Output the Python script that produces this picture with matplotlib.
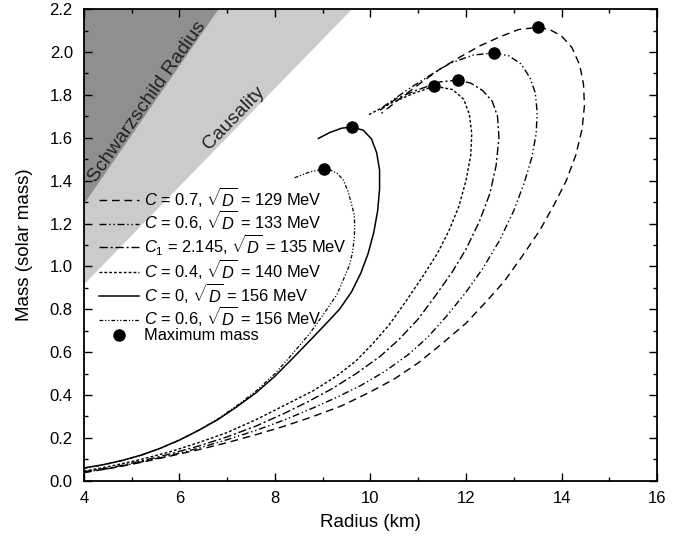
import matplotlib
matplotlib.use("Agg")
import matplotlib.pyplot as plt
import numpy as np
from matplotlib.ticker import MultipleLocator, FormatStrFormatter

plt.rcParams['font.family'] = ['Liberation Sans', 'DejaVu Sans']
plt.rcParams['mathtext.fontset'] = 'custom'
plt.rcParams['mathtext.rm'] = 'Liberation Sans'
plt.rcParams['mathtext.it'] = 'Liberation Sans:italic'
plt.rcParams['mathtext.bf'] = 'Liberation Sans:bold'

# ---- data (radius km, mass in solar masses) ----
r_c07 = [4.0, 4.6, 5.2, 5.8, 6.4, 7.0, 7.6, 8.2, 8.8, 9.4, 10.0, 10.5, 11.0, 11.5, 12.0, 12.4, 12.8,
         13.2, 13.55, 13.85, 14.1, 14.3, 14.43, 14.48, 14.46, 14.38, 14.22, 14.0, 13.75, 13.5,
         13.1, 12.7, 12.3, 11.9, 11.45, 11.04, 10.6, 10.23]
m_c07 = [0.038, 0.06, 0.086, 0.115, 0.145, 0.178, 0.215, 0.255, 0.3, 0.35, 0.415, 0.475, 0.55, 0.64, 0.735,
         0.83, 0.93, 1.055, 1.17, 1.29, 1.4, 1.52, 1.64, 1.75, 1.85, 1.94, 2.02, 2.075, 2.105, 2.115,
         2.105, 2.07, 2.03, 1.98, 1.92, 1.854, 1.78, 1.714]

r_c06a = [4.0, 4.6, 5.2, 5.8, 6.4, 7.0, 7.6, 8.2, 8.8, 9.3, 9.8, 10.3, 10.8, 11.2, 11.6, 12.0, 12.35,
          12.7, 13.0, 13.22, 13.38, 13.47, 13.49, 13.45, 13.34, 13.15, 12.9, 12.59, 12.15, 11.66,
          11.25, 10.76, 10.27]
m_c06a = [0.04, 0.06, 0.088, 0.118, 0.152, 0.192, 0.235, 0.284, 0.34, 0.39, 0.445, 0.51, 0.59, 0.67, 0.77,
          0.88, 0.99, 1.12, 1.26, 1.39, 1.51, 1.62, 1.72, 1.81, 1.88, 1.945, 1.982, 1.996, 1.986, 1.947,
          1.892, 1.822, 1.745]

r_c1 = [4.0, 4.6, 5.2, 5.8, 6.4, 7.0, 7.6, 8.2, 8.7, 9.2, 9.7, 10.2, 10.6, 11.0, 11.35, 11.7, 12.0,
        12.28, 12.5, 12.63, 12.69, 12.66, 12.55, 12.35, 12.1, 11.83, 11.46, 10.97, 10.55, 10.2]
m_c1 = [0.042, 0.063, 0.092, 0.125, 0.162, 0.205, 0.255, 0.315, 0.37, 0.43, 0.5, 0.58, 0.66, 0.755, 0.86,
        0.97, 1.08, 1.21, 1.34, 1.47, 1.6, 1.7, 1.77, 1.82, 1.855, 1.869, 1.861, 1.822, 1.784, 1.729]

r_c04 = [4.0, 4.6, 5.2, 5.8, 6.4, 7.0, 7.6, 8.2, 8.8, 9.3, 9.7, 10.05, 10.4, 10.75, 11.1, 11.4, 11.65,
         11.85, 12.0, 12.1, 12.12, 12.07, 11.95, 11.72, 11.34, 10.9, 10.41, 9.95]
m_c04 = [0.045, 0.07, 0.1, 0.135, 0.178, 0.225, 0.285, 0.352, 0.42, 0.49, 0.56, 0.64, 0.73, 0.84, 0.955,
         1.06, 1.17, 1.28, 1.4, 1.52, 1.62, 1.71, 1.78, 1.825, 1.841, 1.807, 1.76, 1.706]

r_c0 = [4.0, 4.4, 4.8, 5.2, 5.6, 6.0, 6.4, 6.8, 7.2, 7.6, 8.0, 8.4, 8.8, 9.1, 9.35, 9.6, 9.8, 9.95,
        10.07, 10.15, 10.19, 10.19, 10.13, 10.02, 9.85, 9.62, 9.4, 9.15, 8.91]
m_c0 = [0.06, 0.075, 0.095, 0.12, 0.152, 0.19, 0.235, 0.285, 0.345, 0.41, 0.488, 0.578, 0.67, 0.74, 0.80,
        0.88, 0.97, 1.06, 1.16, 1.26, 1.36, 1.45, 1.53, 1.595, 1.635, 1.65, 1.645, 1.625, 1.597]

r_c06b = [4.0, 4.4, 4.8, 5.2, 5.6, 6.0, 6.4, 6.8, 7.2, 7.6, 8.0, 8.3, 8.73, 9.08, 9.3, 9.43, 9.55,
          9.62, 9.66, 9.67, 9.66, 9.6, 9.53, 9.43, 9.3, 9.15, 9.03, 8.73, 8.55, 8.38]
m_c06b = [0.058, 0.074, 0.094, 0.119, 0.151, 0.19, 0.236, 0.288, 0.35, 0.418, 0.5, 0.575, 0.688, 0.797, 0.87,
          0.937, 1.0, 1.061, 1.13, 1.185, 1.24, 1.294, 1.35, 1.403, 1.435, 1.45, 1.455, 1.441, 1.425, 1.411]

max_r = [13.5, 12.59, 11.83, 11.34, 9.62, 9.03]
max_m = [2.115, 1.996, 1.869, 1.841, 1.65, 1.455]

labels = [r'$C$ = 0.7, $\sqrt{D}$ = 129 MeV',
          r'$C$ = 0.6, $\sqrt{D}$ = 133 MeV',
          r'$C_1$ = 2.145, $\sqrt{D}$ = 135 MeV',
          r'$C$ = 0.4, $\sqrt{D}$ = 140 MeV',
          r'$C$ = 0, $\sqrt{D}$ = 156 MeV',
          r'$C$ = 0.6, $\sqrt{D}$ = 156 MeV',
          'Maximum mass']

fig = plt.figure(figsize=(6.88, 5.39), dpi=100)
ax = fig.add_axes([0.122, 0.108, 0.833, 0.875])
ax.set_xlim(4, 16)
ax.set_ylim(0, 2.2)

# shaded regions
rr = np.array([4.0, 16.0])
ax.fill_between(rr, rr / 4.37, 2.2, color='#cbcbcb', lw=0, zorder=0)
ax.fill_between(rr, rr / 3.1, 2.2, color='#8f8f8f', lw=0, zorder=0.5)
ax.text(5.32, 1.77, 'Schwarzschild Radius', rotation=55, ha='center', va='center', fontsize=14, color='#222222')
ax.text(7.15, 1.69, 'Causality', rotation=46, ha='center', va='center', fontsize=14, color='#222222')

lw = 1.0
ax.plot(r_c07, m_c07, color='black', lw=lw, dashes=(5.5, 3.5), label=labels[0])
ax.plot(r_c06a, m_c06a, color='black', lw=lw, dashes=(5, 2, 1, 2, 1, 2), label=labels[1])
ax.plot(r_c1, m_c1, color='black', lw=lw, dashes=(6, 2, 1.5, 2), label=labels[2])
ax.plot(r_c04, m_c04, color='black', lw=lw, dashes=(2, 1.5), label=labels[3])
ax.plot(r_c0, m_c0, color='black', lw=1.1, label=labels[4])
ax.plot(r_c06b, m_c06b, color='black', lw=0.9, dashes=(3, 1.5, 1, 1.5, 1, 1.5), label=labels[5])
ax.plot(max_r, max_m, 'o', color='black', ms=8, ls='none', label=labels[6])

leg = ax.legend(loc='upper left', bbox_to_anchor=(0.014, 0.642), frameon=False, fontsize=11.8,
                handlelength=2.5, handletextpad=0.3, labelspacing=-0.07, borderaxespad=0)

ax.xaxis.set_major_locator(MultipleLocator(2))
ax.xaxis.set_minor_locator(MultipleLocator(1))
ax.yaxis.set_major_locator(MultipleLocator(0.2))
ax.yaxis.set_minor_locator(MultipleLocator(0.1))
ax.yaxis.set_major_formatter(FormatStrFormatter('%.1f'))
ax.tick_params(which='both', direction='in', top=True, right=True, labelsize=12)
ax.tick_params(axis='x', which='major', pad=7)
ax.tick_params(axis='y', which='major', pad=8)
ax.tick_params(which='major', length=6, width=1)
ax.tick_params(which='minor', length=3, width=1)
for s in ax.spines.values():
    s.set_linewidth(1.3)
ax.set_xlabel('Radius (km)', fontsize=13.5, labelpad=6)
ax.set_ylabel('Mass (solar mass)', fontsize=13.5, labelpad=12)

fig.savefig('out.png', dpi=100)
